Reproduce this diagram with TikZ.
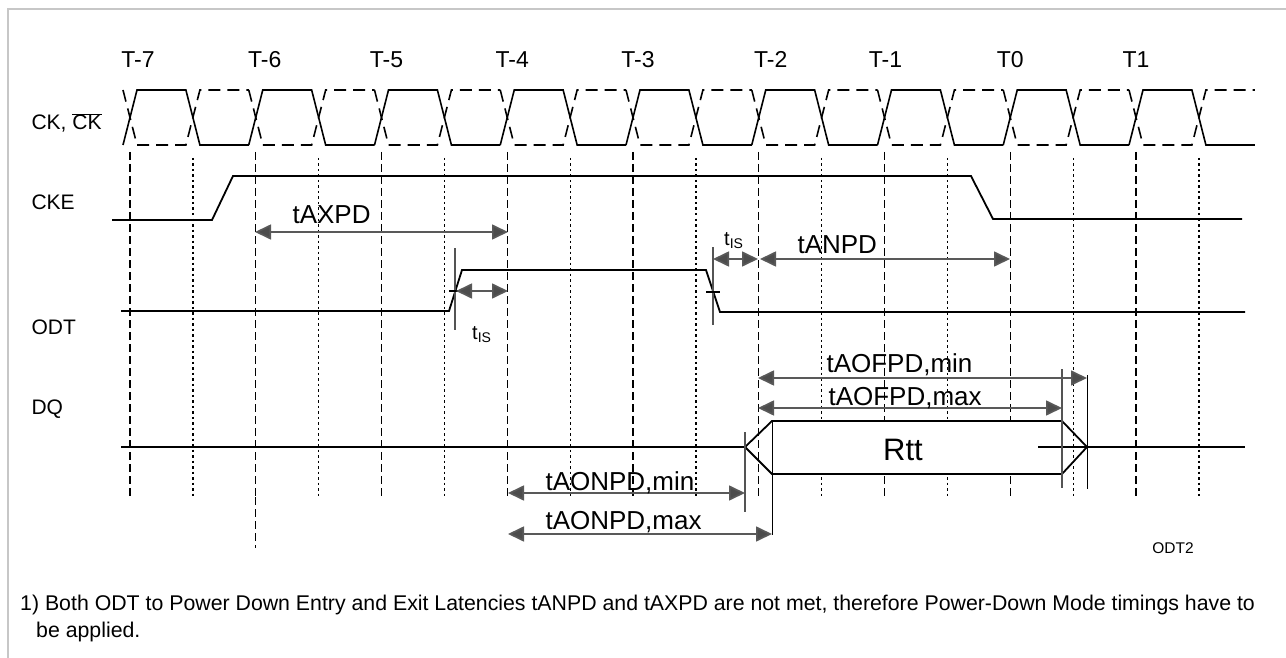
\documentclass[tikz,border=0pt]{standalone}
\usepackage{fontspec}
\setmainfont{Liberation Sans}
\usetikzlibrary{arrows.meta}

\tikzset{
    sig/.style={line width=1.8pt, black},
    gridA/.style={line width=1.4pt, dash pattern=on 8pt off 4pt},
    gridB/.style={line width=1.3pt, dash pattern=on 2.5pt off 3pt},
    markline/.style={line width=1.3pt},
    dimarrow/.style={line width=1.7pt, draw=black!65,
        {Triangle[length=16pt,width=15pt,fill=black!70]}-{Triangle[length=16pt,width=15pt,fill=black!70]}},
    tlabel/.style={font=\fontsize{23}{27}\selectfont, anchor=base},
    siglabel/.style={font=\fontsize{21}{25}\selectfont, anchor=base west},
    dimlabel/.style={font=\fontsize{26}{30}\selectfont, anchor=base west},
    islabel/.style={font=\fontsize{20}{24}\selectfont, anchor=base west, inner sep=0pt},
}

\begin{document}
\begin{tikzpicture}[x=1pt, y=-1pt]
    \useasboundingbox (0,0) rectangle (1286,658);
    \draw[line width=1.5pt, black!22] (8,658) -- (8,9) -- (1286,9); % frame

    % grid lines at the clock edges
    \foreach \k/\lbl/\dx in {0/T-7/8, 1/T-6/9, 2/T-5/5, 3/T-4/5, 4/T-3/5, 5/T-2/12, 6/T-1/1, 7/T0/0, 8/T1/0} {
        \pgfmathsetmacro\r{130+125.75*\k}
        \pgfmathsetmacro\f{\r+62.9}
        \draw[gridA] (\r,152) -- (\r,497);
        \draw[gridB] (\f,158) -- (\f,497);
        \node[tlabel] (lbl\k) at (\r+\dx,68) {\lbl}; % clock number
    }
    \draw[gridA] (255.75,497) -- (255.75,548);

    % clock pair
    \foreach \k in {0,...,8} {
        \pgfmathsetmacro\r{130+125.75*\k}
        \pgfmathsetmacro\f{\r+62.9}
        \draw[sig, line width=1.6pt] (\r-7,145) -- (\r+7,90) -- (\f-7,90) -- (\f+7,145) -- (\r+118.75,145);
        \draw[sig, line width=1.6pt, dash pattern=on 12pt off 7pt] (\r-7,90) -- (\r+7,145) -- (\f-7,145) -- (\f+7,90) -- (\r+118.75,90);
    }

    % signal names
    \node[siglabel] (ck) at (28,130) {CK, $\overline{\hbox{CK}}$};
    \node[siglabel] (cke) at (28,210) {CKE};
    \node[siglabel] (odt) at (28,334) {ODT};
    \node[siglabel] (dq) at (28,414) {DQ};

    % CKE and ODT
    \draw[sig] (112,220) -- (212,220) -- (233,176) -- (971,176) -- (993,219) -- (1242,219);
    \draw[sig] (121,311) -- (449,311) -- (462,270) -- (706,270) -- (720,312) -- (1245,312);

    % DQ with Rtt window
    \fill[white] (772,421) rectangle (1062,474);
    \draw[sig] (121,447) -- (745,447);
    \draw[sig] (745,447) -- (772,421) -- (1062,421) -- (1087,447) -- (1062,474) -- (772,474) -- cycle;
    \draw[sig] (1038,447) -- (1245,447);
    \node[font=\fontsize{31}{36}\selectfont, anchor=base] (rtt) at (903,460) {Rtt};

    % reference marks
    \draw[markline, black!67] (455,248) -- (455,330);
    \draw[markline] (449,291) -- (461,291);
    \draw[markline, black!67] (713,247) -- (713,325);
    \draw[markline] (706,292) -- (720,292);
    \draw[markline, black!67] (745,432) -- (745,512);
    \draw[markline, line width=1pt] (772,421) -- (772,535);
    \draw[markline, black!67] (1062,369) -- (1062,488);
    \draw[markline, line width=1pt] (1087,375) -- (1087,489);

    % timing arrows
    \coordinate (axpdL) at (255,232);   \coordinate (axpdR) at (508,232);
    \coordinate (isaL) at (456,291);    \coordinate (isaR) at (508,291);
    \coordinate (isbL) at (713,259);    \coordinate (isbR) at (758,259);
    \coordinate (anpdL) at (760,259);   \coordinate (anpdR) at (1010,259);
    \coordinate (aofminL) at (758,378); \coordinate (aofminR) at (1087,378);
    \coordinate (aofmaxL) at (758,408); \coordinate (aofmaxR) at (1062,408);
    \coordinate (aonminL) at (508,493); \coordinate (aonminR) at (745,493);
    \coordinate (aonmaxL) at (508,534); \coordinate (aonmaxR) at (772,534);
    \foreach \a in {axpd, isa, isb, anpd, aofmin, aofmax, aonmin, aonmax} {
        \draw[dimarrow] (\a L) -- (\a R);
    }

    \node[dimlabel] (taxpd) at (289,223) {tAXPD};
    \node[dimlabel] (tanpd) at (794,253) {tANPD};
    \node[dimlabel] (taofmin) at (823,372) {tAOFPD,min};
    \node[dimlabel] (taofmax) at (825,405) {tAOFPD,max};
    \node[dimlabel] (taonmin) at (542,490) {tAONPD,min};
    \node[dimlabel] (taonmax) at (542,529) {tAONPD,max};
    \node[islabel] (tisa) at (472,339) {t\textsubscript{IS}};
    \node[islabel] (tisb) at (724,245) {t\textsubscript{IS}};

    % figure tag and note
    \node[font=\fontsize{15.5}{18}\selectfont] (tag) at (1173,548) {ODT2};
    \node[font=\fontsize{21.3}{25}\selectfont, anchor=base west, inner sep=0pt] (note1) at (20,610)
        {1) Both ODT to Power Down Entry and Exit Latencies tANPD and tAXPD are not met, therefore Power-Down Mode timings have to};
    \node[font=\fontsize{21.3}{25}\selectfont, anchor=base west, inner sep=0pt] (note2) at (36,637) {be applied.};
\end{tikzpicture}
\end{document}
